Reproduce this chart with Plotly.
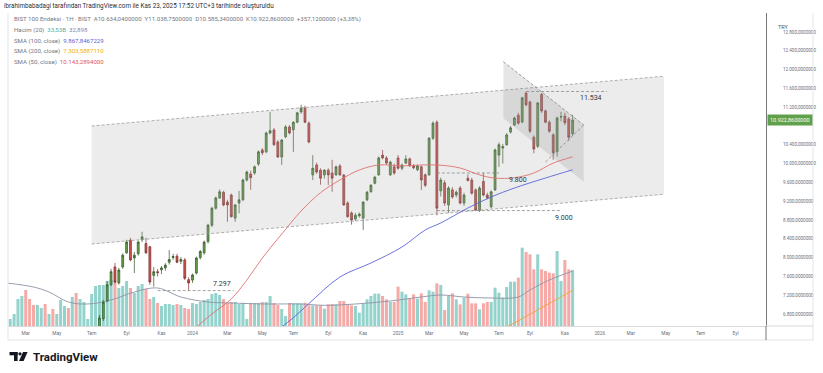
import pandas as pd
import plotly.graph_objects as go

# ---------------- data (weekly BIST 100) ----------------
start_week = "2023-01-30"

open_ = [5200, 5000, 5100, 5200, 5300, 5400, 5150, 4950, 4700, 4850,
         4900, 4750, 4800, 4650, 4750, 4900, 4950, 4600, 5050, 5000,
         5450, 5650, 5800, 6000, 6300, 6700, 7080, 7420, 7800, 7460,
         7800, 8100, 8370, 7990, 8080, 8380, 8300, 8230, 7620, 7700,
         7740, 7780, 7900, 8000, 8030, 7920, 7950, 7530, 7520, 7670,
         8000, 8100, 8340, 8690, 9050, 9270, 9390, 9180, 9330, 8840,
         9160, 9230, 9650, 9780, 9800, 9990, 10290, 10250, 10650, 10715,
         10460, 10140, 10570, 10780, 10720, 10880, 11100, 11180, 10860, 9760,
         9970, 9860, 9760, 9860, 9800, 9760, 9950, 9757, 9160, 8950,
         8820, 8890, 8840, 9230, 9400, 9580, 9760, 10180, 10120, 9760,
         9930, 10120, 9900, 10010, 10100, 9950, 9870, 9930, 9760, 9760,
         10540, 10880, 9420, 9590, 9120, 9440, 9330, 9480, 9160, 9690,
         9650, 9440, 9000, 9620, 9330, 9080, 9440, 10180, 10330, 10400,
         10670, 10820, 11030, 10885, 11500, 11310, 10560, 10370, 11470, 11120,
         10880, 10610, 10250, 10990, 11010, 10950, 10634.04]
high = [5250, 5150, 5250, 5350, 5450, 5420, 5200, 5000, 4900, 4950,
        4920, 4850, 4820, 4800, 4950, 5000, 4980, 5100, 5100, 5500,
        5700, 5850, 6050, 6350, 6780, 7100, 7500, 7760, 7885, 7780,
        8090, 8380, 8420, 8120, 8360, 8550, 8420, 8250, 7800, 7760,
        7820, 7880, 8160, 8080, 8080, 8010, 7990, 7580, 7660, 8020,
        8160, 8360, 8720, 9080, 9300, 9450, 9420, 9230, 9360, 9140,
        9420, 9680, 9850, 9850, 9960, 10280, 10330, 10680, 11100, 10760,
        10500, 10520, 10820, 10820, 10900, 11100, 11252, 11230, 10900, 10180,
        10020, 9900, 9880, 9900, 10080, 9960, 9990, 9780, 9200, 8980,
        8950, 8960, 9200, 9420, 9560, 9740, 10150, 10290, 10160, 10060,
        10000, 10180, 10000, 10180, 10130, 9990, 9980, 9960, 9790, 10560,
        10900, 10920, 9700, 9650, 9520, 9500, 9430, 9520, 9380, 9770,
        9700, 9470, 9520, 9800, 9380, 9430, 10320, 10450, 10420, 10650,
        10800, 11000, 11080, 11420, 11534, 11340, 10600, 11310, 11500, 11150,
        10920, 10650, 11000, 11100, 11080, 10990, 11038.75]
low = [4950, 4700, 5000, 5150, 5250, 5100, 4900, 4650, 4650, 4800,
       4700, 4700, 4600, 4600, 4700, 4850, 4550, 4550, 4950, 4980,
       5400, 5600, 5750, 5950, 6250, 6650, 7050, 7400, 7450, 7420,
       7760, 8080, 7920, 7670, 8040, 8330, 8080, 7420, 7380, 7600,
       7650, 7720, 7850, 7950, 7880, 7860, 7520, 7297, 7460, 7640,
       7960, 8060, 8300, 8650, 9020, 9250, 9090, 8760, 8850, 8760,
       8940, 9200, 9620, 9440, 9760, 9950, 10180, 10220, 10620, 10380,
       10120, 9970, 10540, 10620, 10250, 10860, 11060, 10860, 10430, 9650,
       9780, 9550, 9680, 9540, 9400, 9740, 9740, 9100, 8850, 8700,
       8780, 8850, 8587, 9200, 9380, 9560, 9740, 10090, 9980, 9740,
       9760, 9870, 9860, 9990, 9930, 9880, 9840, 9440, 9500, 9740,
       10500, 8900, 9300, 9100, 8950, 9250, 9280, 9130, 9100, 9620,
       9340, 8990, 8970, 9300, 9240, 9050, 9420, 9930, 10000, 10380,
       10640, 10800, 10830, 10860, 11220, 10650, 10220, 10330, 11080, 10860,
       10660, 10080, 10150, 10900, 10820, 10480, 10585.34]
close_ = [5000, 5100, 5200, 5300, 5400, 5150, 4950, 4700, 4850, 4900,
          4750, 4800, 4650, 4750, 4900, 4950, 4600, 5050, 5000, 5450,
          5650, 5800, 6000, 6300, 6714, 7050, 7420, 7700, 7480, 7735,
          8050, 8330, 7950, 8050, 8330, 8440, 8100, 7480, 7700, 7680,
          7780, 7840, 7960, 8020, 7900, 7960, 7560, 7460, 7630, 7990,
          8130, 8330, 8690, 9050, 9270, 9400, 9120, 9120, 8870, 9120,
          9230, 9650, 9820, 9700, 9930, 10250, 10230, 10650, 10700, 10400,
          10140, 10500, 10780, 10650, 10880, 11080, 11180, 10880, 10460, 9900,
          9820, 9690, 9860, 9760, 9690, 9930, 9760, 9120, 8870, 8800,
          8900, 8920, 9180, 9390, 9540, 9710, 10120, 10120, 10010, 10030,
          9800, 9900, 9970, 10100, 9950, 9910, 9950, 9650, 9540, 10540,
          10860, 9050, 9650, 9160, 9480, 9290, 9390, 9160, 9330, 9640,
          9370, 9010, 9480, 9330, 9270, 9400, 10290, 10400, 10360, 10610,
          10760, 10970, 10860, 11400, 11250, 10690, 10310, 11290, 11120, 10880,
          10690, 10230, 10970, 11000, 10870, 10560, 10922.86]

# weekly volume, billions
volume = [5.0,
          4.2, 7.2, 16.2, 18, 21.6, 16.2, 12.6, 12.6, 10.8, 13.2, 7.2, 10.2, 7.2,
          15.6, 12, 10.8, 17.4, 19.8, 16.2, 14.4, 4.2, 19.2, 24, 24.6, 24.6, 27,
          27.6, 27, 22.8, 24, 27, 22.8, 19.8, 24, 25.2, 22.2, 16.2, 17.4, 13.8,
          12, 13.2, 13.2, 12.6, 13.2, 12.6, 10.8, 10.2, 13.8, 13.2, 14.4, 15.6,
          16.2, 19.2, 19.8, 18.6, 16.2, 13.8, 14.4, 14.4, 13.2, 13.8, 4.2, 13.8,
          13.8, 13.8, 14.4, 14.4, 18, 13.8, 12.6, 10.2, 6, 13.8,
          13.6, 13.6, 13.6, 14, 12.4, 12.4, 12.4, 12.4, 10.4, 13, 13.2, 13, 15,
          15, 13, 12.4, 12, 8, 13.6, 16, 18, 19.4, 19.4, 18, 16, 14.4, 14.4,
          23.6, 20.6, 19, 16.4, 19, 16.4, 19.6, 14.4, 21.4, 20.6, 25.6, 24.6,
          9.6, 18, 19.6, 16, 13, 17, 19.4, 13.6, 13.6, 10, 13.6, 14.4, 14.4, 23,
          20, 17, 23.4, 26.6, 26.6, 29, 47, 44.4, 43, 34, 43, 34, 33, 32, 31.6,
          45, 27, 39.6, 34, 33.53]

# indicator lines (bar index -> value)
vol_ma_idx = [0, 7, 11, 16, 21, 27, 33, 39, 45, 52, 58, 67, 76, 82, 90, 99, 107, 112, 118, 125, 132, 135, 140, 146]
vol_ma_val = [25.8, 23.4, 20.4, 14.4, 13.2, 15.6, 20.4, 22.8, 17.4, 14.4, 13.8, 13.2, 13.2, 12.4, 13.2, 15.0, 17.4, 18.6, 17.4, 16.8, 17.4, 21.6, 27.6, 32.9]

sma50_idx = [40, 45, 49, 53, 58, 62, 66, 71, 76, 81, 86, 91, 96, 102, 107, 112, 117, 122, 126, 131, 136, 141, 146]
sma50_val = [5950, 6250, 6520, 6800, 7120, 7520, 7990, 8500, 8990, 9380, 9650, 9863, 9970, 9950, 9970, 9965, 9905, 9760, 9690, 9700, 9800, 10010, 10143.29]

sma100_idx = [60, 66, 71, 74, 78, 86, 94, 102, 108, 112, 119, 125, 131, 139, 146]
sma100_val = [5650, 6100, 6520, 6720, 7020, 7586, 7884, 8225, 8587, 8736, 9055, 9289, 9480, 9693, 9867.85]

sma200_idx = [110, 120, 129, 137, 146]
sma200_val = [5700, 6100, 6522, 6884, 7303.59]

# drawings (date, price)
channel_dates = ["2023-07-03", "2026-05-01"]
channel_upper = [10800, 11859]
channel_lower = [8289, 9348]

wedge_dates = ["2025-07-15", "2025-12-07", "2025-12-07", "2025-07-15"]
wedge_prices = [12168, 10821, 9614, 10964]
tri_low_dates = ["2025-09-29", "2025-12-07"]
tri_low_prices = [10034, 10821]

level_text = ["11.534", "9.800", "9.000", "7.297"]
level_value = [11534, 9800, 9000, 7297]
level_start = ["2025-08-25", "2025-03-17", "2025-03-17", "2023-10-30"]
level_end = ["2026-01-18", "2025-07-07", "2025-10-25", "2024-03-15"]
level_label_x = ["2025-12-21", "2025-08-11", "2025-11-01", "2024-02-23"]
level_label_shift = [-7, -7, -7, 7]

month_ticks = ["2023-03-06", "2023-05-01", "2023-07-03", "2023-09-04", "2023-11-06",
               "2024-01-01", "2024-03-04", "2024-05-06", "2024-07-01", "2024-09-02", "2024-11-04",
               "2025-01-06", "2025-03-03", "2025-05-05", "2025-07-07", "2025-09-01", "2025-11-03",
               "2026-01-05", "2026-03-02", "2026-05-04", "2026-07-06", "2026-09-07"]
month_labels = ["Mar", "May", "Tem", "Eyl", "Kas", "2024", "Mar", "May", "Tem", "Eyl", "Kas",
                "2025", "Mar", "May", "Tem", "Eyl", "Kas", "2026", "Mar", "May", "Tem", "Eyl"]
price_ticks = [6800, 7200, 7600, 8000, 8400, 8800, 9200, 9600, 10000, 10400, 11200, 11600, 12000, 12400, 12800]
price_labels = ["6.800,0000000", "7.200,0000000", "7.600,0000000", "8.000,0000000", "8.400,0000000",
                "8.800,0000000", "9.200,0000000", "9.600,0000000", "10.000,0000000", "10.400,0000000",
                "11.200,0000000", "11.600,0000000", "12.000,0000000", "12.400,0000000", "12.800,0000000"]

# ---------------- figure ----------------
weeks = pd.date_range(start_week, periods=len(close_), freq="7D")
FONT = "Roboto"
UP_VOL, DN_VOL = "#93d3cc", "#f6aaa8"
DASH = "3px,2px"

fig = go.Figure()

vol_colors = [UP_VOL if c >= o else DN_VOL for o, c in zip(open_, close_)]
fig.add_trace(go.Bar(x=weeks, y=volume, marker=dict(color=vol_colors, line=dict(width=0)),
                     width=7 * 86400000 * 0.78, yaxis="y", hoverinfo="skip"))
fig.add_trace(go.Scatter(x=weeks[vol_ma_idx], y=vol_ma_val, mode="lines",
                         line=dict(color="#8d93a5", width=0.9, shape="spline"), yaxis="y"))

# parallel channel
fig.add_trace(go.Scatter(x=[channel_dates[0], channel_dates[1], channel_dates[1], channel_dates[0], channel_dates[0]],
                         y=[channel_upper[0], channel_upper[1], channel_lower[1], channel_lower[0], channel_upper[0]],
                         fill="toself", fillcolor="rgba(170,170,170,0.22)", line=dict(width=0),
                         mode="lines", yaxis="y2", hoverinfo="skip"))
for ys in (channel_upper, channel_lower):
    fig.add_trace(go.Scatter(x=channel_dates, y=ys, mode="lines",
                             line=dict(color="#9a9a9a", width=0.8, dash=DASH), yaxis="y2", hoverinfo="skip"))

# wedge / triangle
fig.add_trace(go.Scatter(x=wedge_dates + [wedge_dates[0]], y=wedge_prices + [wedge_prices[0]],
                         fill="toself", fillcolor="rgba(140,140,140,0.22)", line=dict(width=0),
                         mode="lines", yaxis="y2", hoverinfo="skip"))
fig.add_trace(go.Scatter(x=wedge_dates[:2], y=wedge_prices[:2], mode="lines",
                         line=dict(color="#888", width=0.8, dash=DASH), yaxis="y2", hoverinfo="skip"))
fig.add_trace(go.Scatter(x=tri_low_dates, y=tri_low_prices, mode="lines",
                         line=dict(color="#888", width=0.8, dash=DASH), yaxis="y2", hoverinfo="skip"))

# horizontal levels
for s, e, v in zip(level_start, level_end, level_value):
    fig.add_trace(go.Scatter(x=[s, e], y=[v, v], mode="lines",
                             line=dict(color="#8a8a8a", width=0.8, dash=DASH), yaxis="y2", hoverinfo="skip"))

# candles
fig.add_trace(go.Candlestick(x=weeks, open=open_, high=high, low=low, close=close_, yaxis="y2",
                             increasing=dict(fillcolor="#67a04f", line=dict(color="#2f5524", width=0.7)),
                             decreasing=dict(fillcolor="#cd5250", line=dict(color="#7a2c2a", width=0.7)),
                             whiskerwidth=0, hoverinfo="skip"))

# moving averages
fig.add_trace(go.Scatter(x=weeks[sma50_idx], y=sma50_val, mode="lines",
                         line=dict(color="#e07070", width=0.9, shape="spline"), yaxis="y2"))
fig.add_trace(go.Scatter(x=weeks[sma100_idx], y=sma100_val, mode="lines",
                         line=dict(color="#5b63d8", width=0.9, shape="spline"), yaxis="y2"))
fig.add_trace(go.Scatter(x=weeks[sma200_idx], y=sma200_val, mode="lines",
                         line=dict(color="#f2a33a", width=0.9, shape="spline"), yaxis="y2"))

# ---------------- layout ----------------
L, R, T, B = 8, 766, 13, 326


def px(x):
    return (x - L) / (R - L)


def py(y):
    return (B - y) / (B - T)


fig.update_layout(
    width=823, height=373, margin=dict(l=L, r=823 - R, t=T, b=373 - B),
    paper_bgcolor="white", plot_bgcolor="white", showlegend=False,
    font=dict(family=FONT),
    xaxis=dict(type="date", range=["2023-02-02", "2026-11-01"], rangeslider=dict(visible=False),
               tickvals=month_ticks, ticktext=month_labels, showgrid=False, zeroline=False,
               showline=True, linecolor="#d9d9d9", linewidth=1, ticks="",
               tickfont=dict(size=4.8, color="#6b6f7a", family=FONT), ticklabelstandoff=2),
    yaxis=dict(range=[0, 187.8], visible=False),
    yaxis2=dict(overlaying="y", side="right", range=[6543.7, 13204.3], tickvals=price_ticks,
                ticktext=price_labels, showgrid=False, zeroline=False, showline=True,
                linecolor="#777", linewidth=1, ticks="",
                tickfont=dict(size=4.6, color="#6b6f7a", family=FONT), ticklabelstandoff=15),
)

ann = []
for t, v, xl, sh in zip(level_text, level_value, level_label_x, level_label_shift):
    ann.append(dict(x=xl, y=v, xref="x", yref="y2", text=t, showarrow=False, yshift=sh,
                    font=dict(size=7, color="#333", family=FONT)))

# price tag
ann.append(dict(x=px(766.5), y=close_[-1], xref="paper", yref="y2", xanchor="left",
                text="10.922,8600000", showarrow=False, bgcolor="#61a04a", borderpad=2,
                font=dict(size=5.5, color="white", family=FONT)))
ann.append(dict(x=px(776), y=py(22), xref="paper", yref="paper", xanchor="left", text="TRY",
                showarrow=False, font=dict(size=5.5, color="#555", family=FONT)))

grey = "#747884"
legend_lines = [
    "ibrahimbabadagi tarafından TradingView.com ile Kas 23, 2025 17:52 UTC+3 tarihinde oluşturuldu",
    f"<span style='color:{grey}'>BIST 100 Endeksi · 1H · BIST  A10.634,0400000  Y11.038,7500000  D10.585,3400000  K10.922,8600000  +357,1200000 (+3,38%)</span>",
    f"<span style='color:{grey}'>Hacim (20)</span>  <span style='color:#4fb3a7'>33,53B</span>  <span style='color:#7d88b8'>32,898</span>",
    f"<span style='color:{grey}'>SMA (100, close)</span>  <span style='color:#5b5fd6'>9.867,8467229</span>",
    f"<span style='color:{grey}'>SMA (200, close)</span>  <span style='color:#efb10a'>7.303,5887110</span>",
    f"<span style='color:{grey}'>SMA (50, close)</span>  <span style='color:#e05656'>10.143,2894000</span>",
]
legend_pos = [(2, 6), (12, 19), (12, 29.8), (12, 40.6), (12, 51.4), (12, 62)]
for i, (txt, (lx, ly)) in enumerate(zip(legend_lines, legend_pos)):
    ann.append(dict(x=px(lx), y=py(ly), xref="paper", yref="paper", xanchor="left", yanchor="middle",
                    text=txt, showarrow=False,
                    font=dict(size=6.3 if i == 0 else 6.1, color="#2a2e39", family=FONT)))

ann.append(dict(x=px(31), y=py(356.5), xref="paper", yref="paper", xanchor="left", yanchor="middle",
                text="<b>TradingView</b>", showarrow=False,
                font=dict(size=11.5, color="#131722", family=FONT)))
fig.update_layout(annotations=ann)

shapes = [
    # frame
    dict(type="line", xref="paper", yref="paper", x0=px(8), x1=px(813), y0=py(340), y1=py(340),
         line=dict(color="#e3e5ea", width=1)),
    dict(type="line", xref="paper", yref="paper", x0=px(8), x1=px(8), y0=py(13), y1=py(340),
         line=dict(color="#e3e5ea", width=1)),
    dict(type="line", xref="paper", yref="paper", x0=px(813), x1=px(813), y0=py(13), y1=py(340),
         line=dict(color="#e3e5ea", width=1)),
    dict(type="line", xref="paper", yref="paper", x0=px(766), x1=px(813), y0=py(326), y1=py(326),
         line=dict(color="#d9d9d9", width=1)),
    dict(type="line", xref="paper", yref="paper", x0=px(766), x1=px(766), y0=py(326), y1=py(340),
         line=dict(color="#777", width=1)),
    # TradingView logo
    dict(type="rect", xref="paper", yref="paper", x0=px(9.5), x1=px(17.6), y0=py(355.3), y1=py(352),
         fillcolor="#131722", line=dict(width=0)),
    dict(type="rect", xref="paper", yref="paper", x0=px(14), x1=px(17.6), y0=py(361), y1=py(352),
         fillcolor="#131722", line=dict(width=0)),
    dict(type="circle", xref="paper", yref="paper", x0=px(18.4), x1=px(21.6), y0=py(355.4), y1=py(352.2),
         fillcolor="#131722", line=dict(width=0)),
    dict(type="path", xref="paper", yref="paper",
         path=f"M {px(23.0)},{py(352)} L {px(27.6)},{py(352)} L {px(23.6)},{py(361)} L {px(19.0)},{py(361)} Z",
         fillcolor="#131722", line=dict(width=0)),
]
fig.update_layout(shapes=shapes)

fig.write_html("out.html", config={"displayModeBar": False, "staticPlot": True},
               post_script="document.body.style.margin='0px';")
